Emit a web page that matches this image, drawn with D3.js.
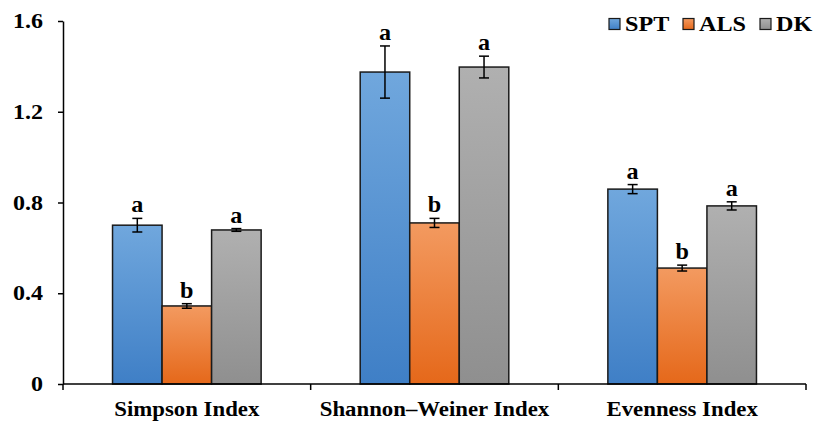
<!DOCTYPE html>
<html><head><meta charset="utf-8">
<script src="https://cdn.jsdelivr.net/npm/d3@7"></script>
<style>body{margin:0;background:#fff;} text{font-family:"Liberation Serif","Times New Roman",serif;font-weight:bold;fill:#000;}</style>
</head><body>
<svg id="c" width="814" height="425"></svg>
<script>
const categories = ["Simpson Index", "Shannon\u2013Weiner Index", "Evenness Index"];
const series = ["SPT", "ALS", "DK"];
const values = {
  SPT: [0.70, 1.375, 0.859],
  ALS: [0.344, 0.71, 0.511],
  DK:  [0.679, 1.397, 0.785]
};
const errors = {
  SPT: [0.03, 0.115, 0.02],
  ALS: [0.01, 0.02, 0.013],
  DK:  [0.006, 0.048, 0.018]
};
const letters = {
  SPT: ["a", "a", "a"],
  ALS: ["b", "b", "b"],
  DK:  ["a", "a", "a"]
};
const yTicks = [0, 0.4, 0.8, 1.2, 1.6];
const yTickLabels = ["0", "0.4", "0.8", "1.2", "1.6"];

const colors = {
  SPT: ["#70a7dd", "#3f7fc6"],
  ALS: ["#f39a60", "#e5681a"],
  DK:  ["#b0b0b0", "#8f8f8f"]
};

const svg = d3.select("#c");
const m = {l: 63, r: 8, t: 21, b: 41};
const W = 814, H = 425;
const x0 = d3.scaleBand().domain(categories).range([m.l, W - m.r]).paddingInner(0).paddingOuter(0);
const x1 = d3.scaleBand().domain(series).range([0, x0.bandwidth()]).paddingInner(0).paddingOuter(1);
const y = d3.scaleLinear().domain([0, 1.6]).range([H - m.b, m.t]);

const defs = svg.append("defs");
series.forEach(s => {
  const g = defs.append("linearGradient").attr("id", "g" + s).attr("x1", 0).attr("y1", 0).attr("x2", 0).attr("y2", 1);
  g.append("stop").attr("offset", "0%").attr("stop-color", colors[s][0]);
  g.append("stop").attr("offset", "100%").attr("stop-color", colors[s][1]);
});

function stretchedText(parent, x, yy, txt, size, sx, anchor) {
  return parent.append("text")
    .attr("transform", `translate(${x},${yy}) scale(${sx},1)`)
    .attr("text-anchor", anchor).attr("font-size", size).text(txt);
}

// bars
const groups = svg.append("g").selectAll("g").data(categories).join("g")
  .attr("transform", d => `translate(${x0(d)},0)`);
groups.each(function(cat, ci) {
  const g = d3.select(this);
  series.forEach(s => {
    const v = values[s][ci], e = errors[s][ci];
    const bx = x1(s), bw = x1.bandwidth();
    g.append("rect").attr("x", bx).attr("y", y(v)).attr("width", bw).attr("height", y(0) - y(v))
      .attr("fill", `url(#g${s})`).attr("stroke", "#1a1a1a").attr("stroke-width", 1.5);
    const cx = bx + bw / 2;
    g.append("line").attr("x1", cx).attr("x2", cx).attr("y1", y(v + e)).attr("y2", y(v - e)).attr("stroke", "#000").attr("stroke-width", 1.5);
    [v + e, v - e].forEach(t => g.append("line").attr("x1", cx - 5).attr("x2", cx + 5).attr("y1", y(t)).attr("y2", y(t)).attr("stroke", "#000").attr("stroke-width", 1.5));
    stretchedText(g, cx, y(v + e) - 6, letters[s][ci], 23, 1.05, "middle");
  });
});

// y axis
const yAxis = svg.append("g").attr("transform", `translate(${m.l},0)`)
  .call(d3.axisLeft(y).tickValues(yTicks).tickFormat("").tickSize(5).tickSizeOuter(0));
yAxis.select(".domain").attr("stroke", "#000").attr("stroke-width", 1.5);
yAxis.selectAll(".tick line").attr("stroke", "#000").attr("stroke-width", 1.5);
yAxis.selectAll(".tick text").remove();
yTicks.forEach((t, i) => {
  stretchedText(svg, m.l - 20, y(t) + 7, yTickLabels[i], 20, 1.2, "end");
});

// x axis
const xAxisG = svg.append("g").attr("transform", `translate(0,${y(0)})`);
xAxisG.append("line").attr("x1", m.l).attr("x2", W - m.r).attr("stroke", "#000").attr("stroke-width", 1.5);
const bounds = [m.l].concat(categories.map(c => x0(c) + x0.bandwidth()));
xAxisG.selectAll("line.tk").data(bounds).join("line").attr("class", "tk")
  .attr("x1", d => d).attr("x2", d => d).attr("y1", 0).attr("y2", 6).attr("stroke", "#000").attr("stroke-width", 1.5);
categories.forEach(c => {
  stretchedText(xAxisG, x0(c) + x0.bandwidth() / 2, 32, c, 20, 1.14, "middle");
});

// legend
const legX = [609, 683, 760];
const leg = svg.append("g");
series.forEach((s, i) => {
  leg.append("rect").attr("x", legX[i]).attr("y", 18.5).attr("width", 11).attr("height", 11)
    .attr("fill", `url(#g${s})`).attr("stroke", "#1a1a1a").attr("stroke-width", 1.2);
  stretchedText(leg, legX[i] + 16, 31, s, 21, 1.15, "start");
});
</script>
</body></html>
